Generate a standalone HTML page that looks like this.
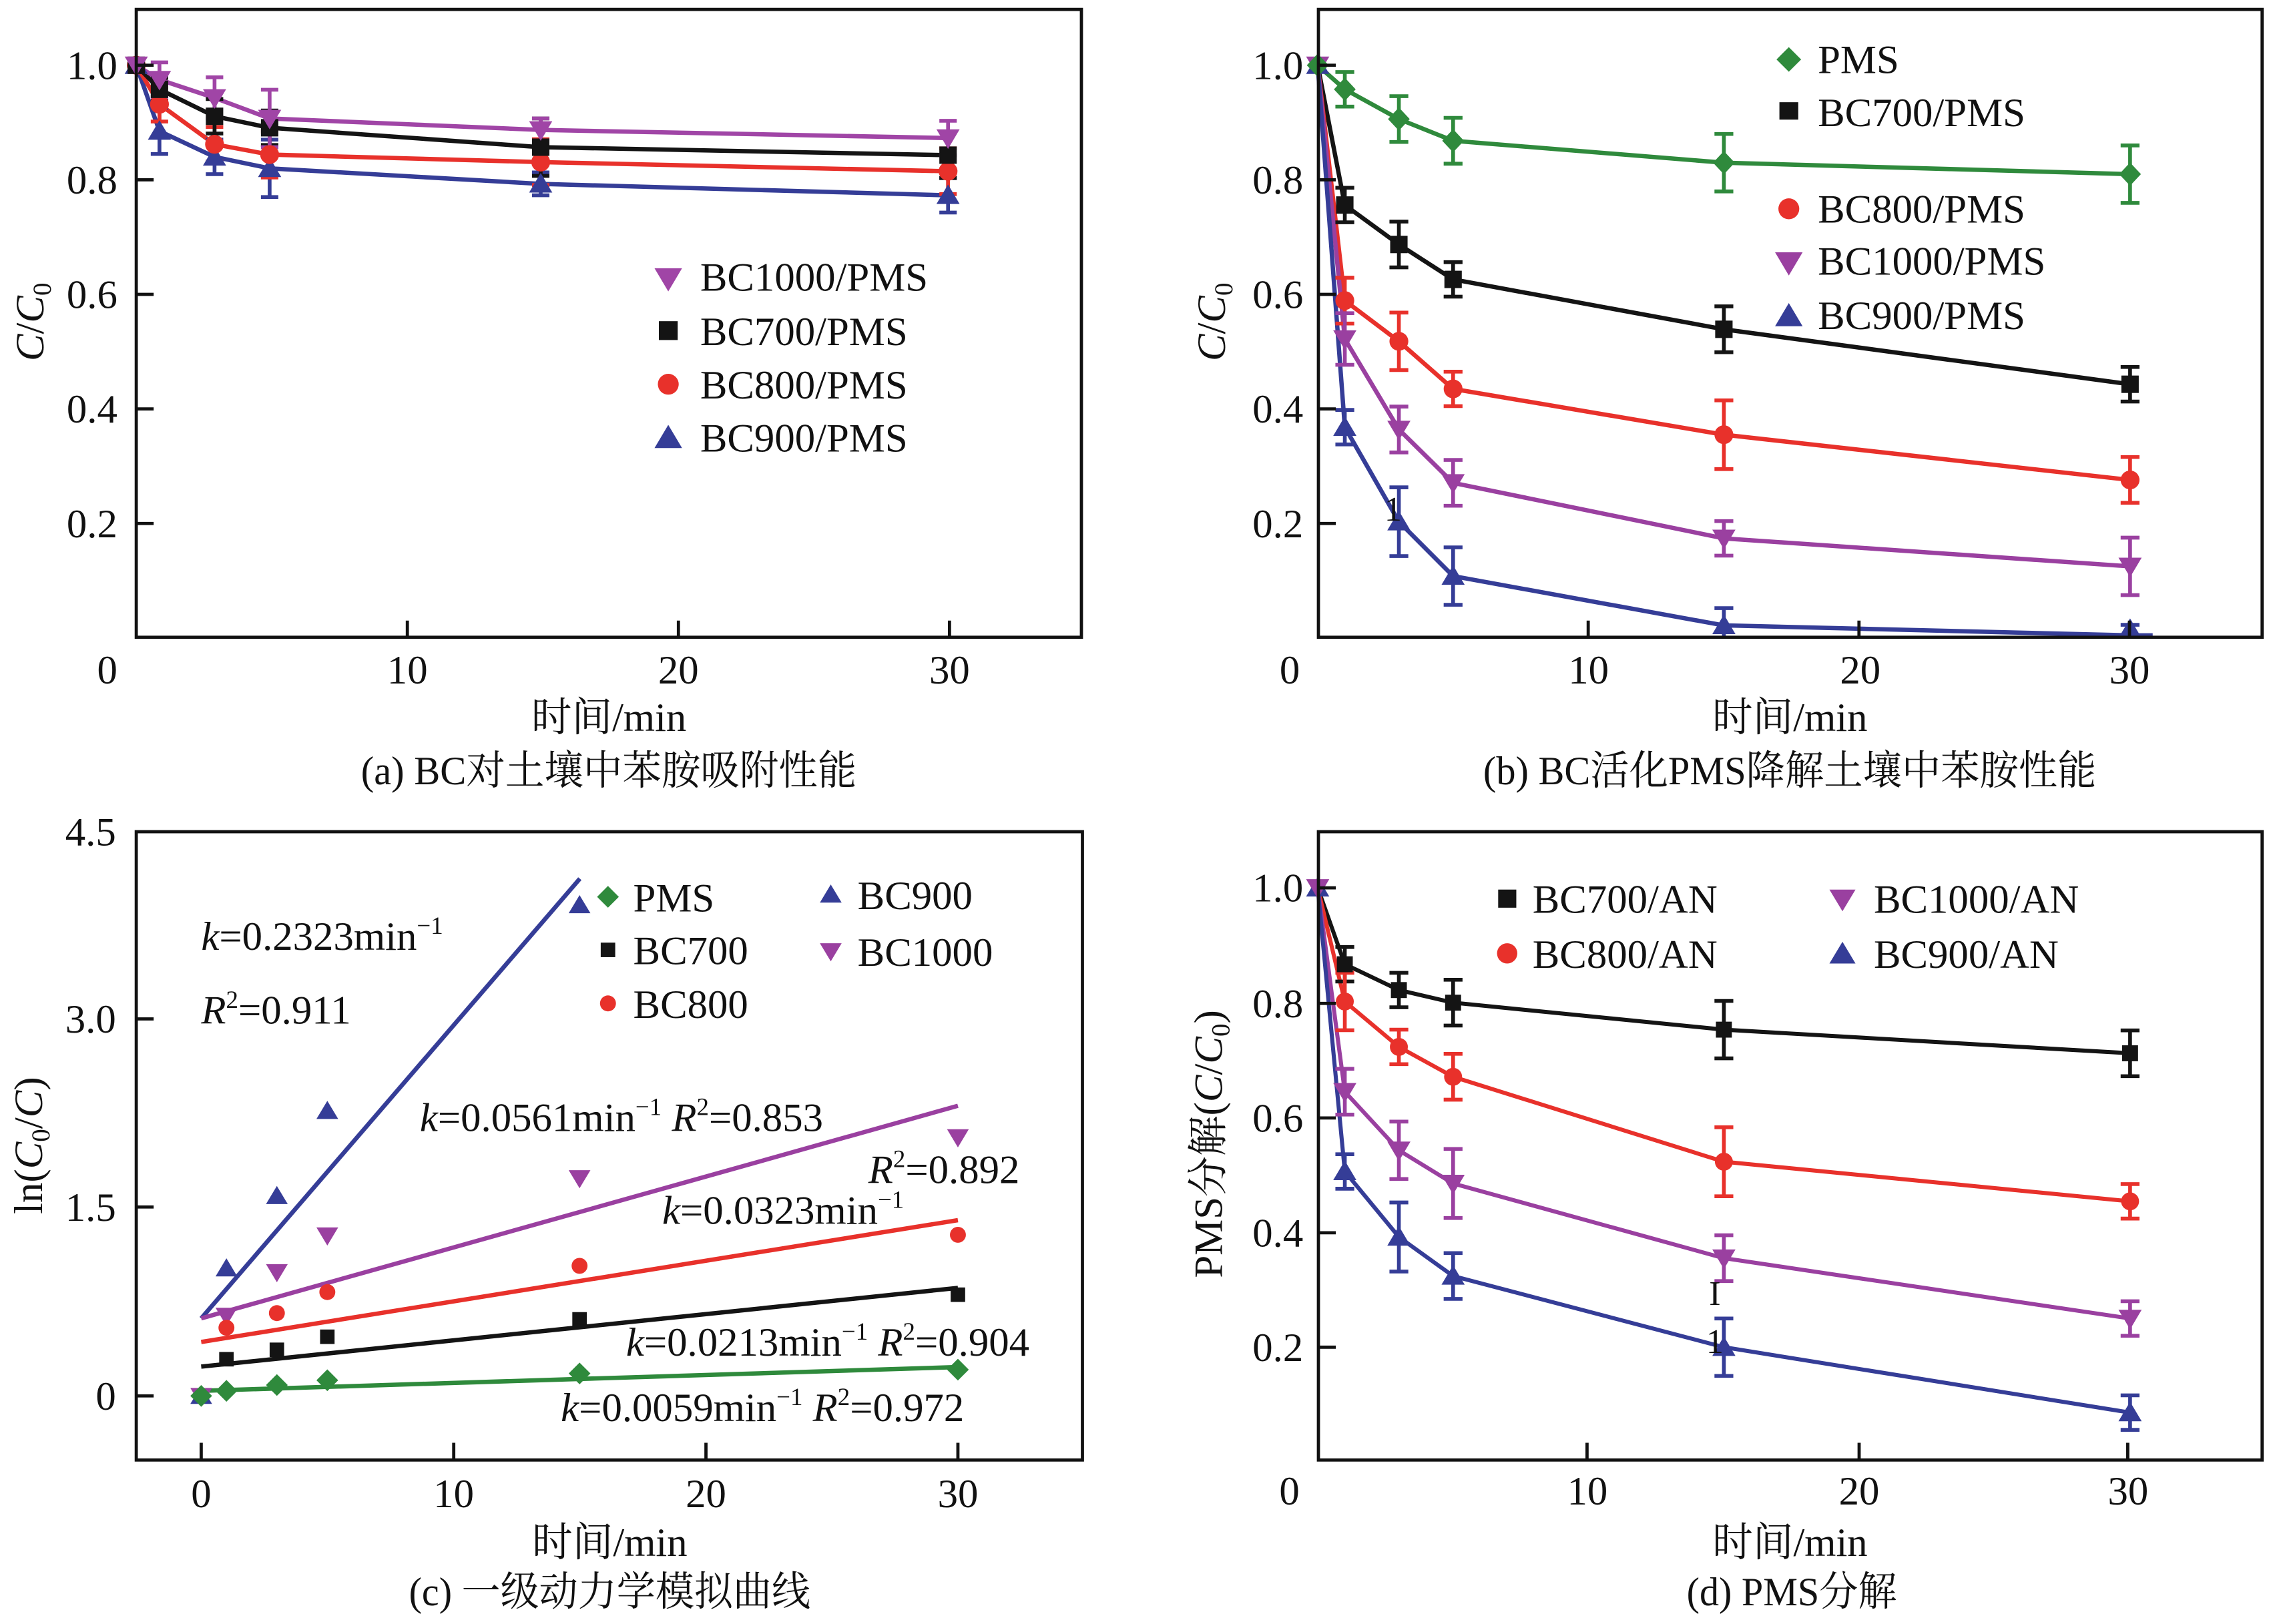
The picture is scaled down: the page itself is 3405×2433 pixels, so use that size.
<!DOCTYPE html>
<html><head><meta charset="utf-8"><style>
html,body{margin:0;padding:0;background:#fff;}
body{width:3405px;height:2433px;overflow:hidden;}
svg{display:block;}
</style></head><body>
<svg xmlns="http://www.w3.org/2000/svg" width="3405" height="2433" viewBox="0 0 1568 1120" preserveAspectRatio="none">
<rect x="0" y="0" width="1568" height="1120" fill="#fff"/>
<g font-family="'Liberation Serif','Noto Serif CJK SC',serif" font-size="28" fill="#111">

<!-- ================= PANEL A ================= -->
<g fill="none" stroke-width="3" stroke-linejoin="round">
<polyline stroke="#353d97" points="94,45 110,90.4 148,108.2 186,116.1 373,126.8 654,134.7"/>
<polyline stroke="#e8312b" points="94,45 110,71.9 148,99.5 186,106.6 373,111.8 654,118.1"/>
<polyline stroke="#141414" points="94,45 110,61.6 148,80.2 186,88.1 373,101.5 654,107"/>
<polyline stroke="#a045a6" points="94,45 110,54.9 148,67.5 186,81.7 373,89.6 654,95.2"/>
</g>
<g fill="none" stroke-width="2.6">
<path stroke="#353d97" d="M110 74.6V106.2M104 74.6H116M104 106.2H116M148 96.3V120.1M142 96.3H154M142 120.1H154M186 96.3V135.9M180 96.3H192M180 135.9H192M373 118.9V134.7M367 118.9H379M367 134.7H379M654 122.8V146.6M648 122.8H660M648 146.6H660"/>
<path stroke="#e8312b" d="M110 60V83.8M104 60H116M104 83.8H116M148 87.6V111.4M142 87.6H154M142 111.4H154M186 90.8V122.4M180 90.8H192M180 122.4H192M373 96V127.6M367 96H379M367 127.6H379M654 102.3V133.9M648 102.3H660M648 133.9H660"/>
<path stroke="#141414" d="M110 53.7V69.5M104 53.7H116M104 69.5H116M148 68.3V92.1M142 68.3H154M142 92.1H154M186 76.2V100M180 76.2H192M180 100H192M373 81.7V121.3M367 81.7H379M367 121.3H379M654 91.2V122.8M648 91.2H660M648 122.8H660"/>
<path stroke="#a045a6" d="M110 43V66.8M104 43H116M104 66.8H116M148 53.3V81.7M142 53.3H154M142 81.7H154M186 61.9V101.5M180 61.9H192M180 101.5H192M373 81.7V97.5M367 81.7H379M367 97.5H379M654 83.3V107.1M648 83.3H660M648 107.1H660"/>
</g>
<g fill="#353d97">
<path transform="translate(94 45)" d="M0-7.5L8 6H-8Z"/><path transform="translate(110 90.4)" d="M0-7.5L8 6H-8Z"/><path transform="translate(148 108.2)" d="M0-7.5L8 6H-8Z"/><path transform="translate(186 116.1)" d="M0-7.5L8 6H-8Z"/><path transform="translate(373 126.8)" d="M0-7.5L8 6H-8Z"/><path transform="translate(654 134.7)" d="M0-7.5L8 6H-8Z"/>
</g>
<g fill="#e8312b">
<circle cx="94" cy="45" r="6.5"/><circle cx="110" cy="71.9" r="6.5"/><circle cx="148" cy="99.5" r="6.5"/><circle cx="186" cy="106.6" r="6.5"/><circle cx="373" cy="111.8" r="6.5"/><circle cx="654" cy="118.1" r="6.5"/>
</g>
<g fill="#141414">
<rect x="88" y="39" width="12" height="12"/><rect x="104" y="55.6" width="12" height="12"/><rect x="142" y="74.2" width="12" height="12"/><rect x="180" y="82.1" width="12" height="12"/><rect x="367" y="95.5" width="12" height="12"/><rect x="648" y="101" width="12" height="12"/>
</g>
<g fill="#a045a6">
<path transform="translate(94 45)" d="M0 7.5L8-6H-8Z"/><path transform="translate(110 54.9)" d="M0 7.5L8-6H-8Z"/><path transform="translate(148 67.5)" d="M0 7.5L8-6H-8Z"/><path transform="translate(186 81.7)" d="M0 7.5L8-6H-8Z"/><path transform="translate(373 89.6)" d="M0 7.5L8-6H-8Z"/><path transform="translate(654 95.2)" d="M0 7.5L8-6H-8Z"/>
</g>
<!-- axes a -->
<rect x="94" y="6.5" width="652" height="433" fill="none" stroke="#111" stroke-width="2.2"/>
<path d="M94 45H106M94 124H106M94 203H106M94 282H106M94 361H106M281 439V428M468 439V428M655 439V428" stroke="#111" stroke-width="2.2" fill="none"/>
<g text-anchor="end">
<text x="81" y="54.5">1.0</text><text x="81" y="133.5">0.8</text><text x="81" y="212.5">0.6</text><text x="81" y="291.5">0.4</text><text x="81" y="370.5">0.2</text>
</g>
<g text-anchor="middle">
<text x="74" y="471.5">0</text><text x="281" y="471.5">10</text><text x="468" y="471.5">20</text><text x="655" y="471.5">30</text>
<text x="420" y="504" textLength="107" lengthAdjust="spacingAndGlyphs">时间/min</text>
<text x="420" y="541" textLength="342" lengthAdjust="spacingAndGlyphs">(a) BC对土壤中苯胺吸附性能</text>
<text transform="translate(30 222) rotate(-90)"><tspan font-style="italic">C</tspan>/<tspan font-style="italic">C</tspan><tspan font-size="18" dy="5">0</tspan></text>
</g>
<!-- legend a -->
<path fill="#a045a6" transform="translate(461 192)" d="M0 9L9.5-7H-9.5Z"/>
<rect x="454.5" y="221.5" width="13" height="13" fill="#141414"/>
<circle cx="461" cy="265" r="7.2" fill="#e8312b"/>
<path fill="#353d97" transform="translate(461 302)" d="M0-9L9.5 7H-9.5Z"/>
<text x="483" y="200.5">BC1000/PMS</text>
<text x="483" y="238">BC700/PMS</text>
<text x="483" y="274.8">BC800/PMS</text>
<text x="483" y="311.5">BC900/PMS</text>

<!-- ================= PANEL B ================= -->
<g fill="none" stroke-width="3" stroke-linejoin="round">
<polyline stroke="#2f8a3c" points="909,45 927.7,61.6 965,82.1 1002.4,97.1 1189.2,112.2 1469.4,120.1"/>
<polyline stroke="#141414" points="909,45 927.7,141.4 965,168.6 1002.4,192.7 1189.2,227.1 1469.4,265"/>
<polyline stroke="#e8312b" points="909,45 927.7,207.3 965,235.4 1002.4,268.2 1189.2,299.8 1469.4,331"/>
<polyline stroke="#9a40a0" points="909,45 927.7,233.8 965,296.2 1002.4,333 1189.2,371.3 1469.4,390.6"/>
<polyline stroke="#353d97" points="909,45 927.7,294.6 965,359.8 1002.4,397.3 1189.2,431.3 1469.4,438.2 1485,438.2"/>
</g>
<g fill="none" stroke-width="2.6">
<path stroke="#2f8a3c" d="M927.7 49.7V73.5M921.2 49.7H934.2M921.2 73.5H934.2M965 66.3V97.9M958.5 66.3H971.5M958.5 97.9H971.5M1002.4 81.3V112.9M995.9 81.3H1008.9M995.9 112.9H1008.9M1189.2 92.4V132M1182.7 92.4H1195.7M1182.7 132H1195.7M1469.4 100.3V139.9M1462.9 100.3H1475.9M1462.9 139.9H1475.9"/>
<path stroke="#141414" d="M927.7 129.5V153.3M921.2 129.5H934.2M921.2 153.3H934.2M965 152.8V184.4M958.5 152.8H971.5M958.5 184.4H971.5M1002.4 180.8V204.6M995.9 180.8H1008.9M995.9 204.6H1008.9M1189.2 211.3V242.9M1182.7 211.3H1195.7M1182.7 242.9H1195.7M1469.4 253.1V276.9M1462.9 253.1H1475.9M1462.9 276.9H1475.9"/>
<path stroke="#e8312b" d="M927.7 191.5V223.1M921.2 191.5H934.2M921.2 223.1H934.2M965 215.6V255.2M958.5 215.6H971.5M958.5 255.2H971.5M1002.4 256.3V280.1M995.9 256.3H1008.9M995.9 280.1H1008.9M1189.2 276.1V323.5M1182.7 276.1H1195.7M1182.7 323.5H1195.7M1469.4 315.2V346.8M1462.9 315.2H1475.9M1462.9 346.8H1475.9"/>
<path stroke="#9a40a0" d="M927.7 216V251.6M921.2 216H934.2M921.2 251.6H934.2M965 280.4V312M958.5 280.4H971.5M958.5 312H971.5M1002.4 317.2V348.8M995.9 317.2H1008.9M995.9 348.8H1008.9M1189.2 359.4V383.2M1182.7 359.4H1195.7M1182.7 383.2H1195.7M1469.4 370.8V410.4M1462.9 370.8H1475.9M1462.9 410.4H1475.9"/>
<path stroke="#353d97" d="M927.7 282.7V306.5M921.2 282.7H934.2M921.2 306.5H934.2M965 336.1V383.5M958.5 336.1H971.5M958.5 383.5H971.5M1002.4 377.5V417.1M995.9 377.5H1008.9M995.9 417.1H1008.9M1189.2 419.4V439M1182.7 419.4H1195.7M1469.4 430.9V439M1462.9 430.9H1475.9"/>
</g>
<g fill="#353d97">
<path transform="translate(909 45)" d="M0-7.5L8 6H-8Z"/><path transform="translate(927.7 294.6)" d="M0-7.5L8 6H-8Z"/><path transform="translate(965 359.8)" d="M0-7.5L8 6H-8Z"/><path transform="translate(1002.4 397.3)" d="M0-7.5L8 6H-8Z"/><path transform="translate(1189.2 431.3)" d="M0-7.5L8 6H-8Z"/><path transform="translate(1469.4 434)" d="M0-7.5L8 6H-8Z"/>
</g>
<g fill="#9a40a0">
<path transform="translate(909 45)" d="M0 7.5L8-6H-8Z"/><path transform="translate(927.7 233.8)" d="M0 7.5L8-6H-8Z"/><path transform="translate(965 296.2)" d="M0 7.5L8-6H-8Z"/><path transform="translate(1002.4 333)" d="M0 7.5L8-6H-8Z"/><path transform="translate(1189.2 371.3)" d="M0 7.5L8-6H-8Z"/><path transform="translate(1469.4 390.6)" d="M0 7.5L8-6H-8Z"/>
</g>
<g fill="#e8312b">
<circle cx="927.7" cy="207.3" r="6.5"/><circle cx="965" cy="235.4" r="6.5"/><circle cx="1002.4" cy="268.2" r="6.5"/><circle cx="1189.2" cy="299.8" r="6.5"/><circle cx="1469.4" cy="331" r="6.5"/>
</g>
<g fill="#141414">
<rect x="921.7" y="135.4" width="12" height="12"/><rect x="959" y="162.6" width="12" height="12"/><rect x="996.4" y="186.7" width="12" height="12"/><rect x="1183.2" y="221.1" width="12" height="12"/><rect x="1463.4" y="259" width="12" height="12"/>
</g>
<g fill="#2f8a3c">
<path transform="translate(909 45)" d="M0-8L7.5 0L0 8L-7.5 0Z"/><path transform="translate(927.7 61.6)" d="M0-8L7.5 0L0 8L-7.5 0Z"/><path transform="translate(965 82.1)" d="M0-8L7.5 0L0 8L-7.5 0Z"/><path transform="translate(1002.4 97.1)" d="M0-8L7.5 0L0 8L-7.5 0Z"/><path transform="translate(1189.2 112.2)" d="M0-8L7.5 0L0 8L-7.5 0Z"/><path transform="translate(1469.4 120.1)" d="M0-8L7.5 0L0 8L-7.5 0Z"/>
</g>
<text x="961" y="359" font-size="24" text-anchor="middle">1</text>
<!-- axes b -->
<rect x="909.5" y="6.5" width="651" height="433" fill="none" stroke="#111" stroke-width="2.2"/>
<path d="M909.5 45H921.5M909.5 124H921.5M909.5 203H921.5M909.5 282H921.5M909.5 361H921.5M1095.6 439V428M1282.4 439V428M1469 439V428" stroke="#111" stroke-width="2.2" fill="none"/>
<g text-anchor="end">
<text x="899" y="54.5">1.0</text><text x="899" y="133.5">0.8</text><text x="899" y="212.5">0.6</text><text x="899" y="291.5">0.4</text><text x="899" y="370.5">0.2</text>
</g>
<g text-anchor="middle">
<text x="889.7" y="471.5">0</text><text x="1095.8" y="471.5">10</text><text x="1283.3" y="471.5">20</text><text x="1469" y="471.5">30</text>
<text x="1234.7" y="504" textLength="107" lengthAdjust="spacingAndGlyphs">时间/min</text>
<text x="1234.7" y="541" textLength="423" lengthAdjust="spacingAndGlyphs">(b) BC活化PMS降解土壤中苯胺性能</text>
<text transform="translate(845 222) rotate(-90)"><tspan font-style="italic">C</tspan>/<tspan font-style="italic">C</tspan><tspan font-size="18" dy="5">0</tspan></text>
</g>
<!-- legend b -->
<path fill="#2f8a3c" transform="translate(1234 41)" d="M0-8.5L8.5 0L0 8.5L-8.5 0Z"/>
<rect x="1227.5" y="70.5" width="13" height="12" fill="#141414"/>
<circle cx="1234" cy="144" r="7.2" fill="#e8312b"/>
<path fill="#9a40a0" transform="translate(1234 181)" d="M0 9L9.5-7H-9.5Z"/>
<path fill="#353d97" transform="translate(1234 218)" d="M0-9L9.5 7H-9.5Z"/>
<text x="1254" y="50.5">PMS</text>
<text x="1254" y="87">BC700/PMS</text>
<text x="1254" y="153.5">BC800/PMS</text>
<text x="1254" y="189.5">BC1000/PMS</text>
<text x="1254" y="227">BC900/PMS</text>

<!-- ================= PANEL C ================= -->
<g fill="none" stroke-width="3">
<line x1="138.8" y1="909.2" x2="400" y2="606" stroke="#353d97"/>
<line x1="138.8" y1="909.2" x2="660.8" y2="762.6" stroke="#9a40a0"/>
<line x1="138.8" y1="925.5" x2="660.8" y2="841.5" stroke="#e8312b"/>
<line x1="138.8" y1="942.5" x2="660.8" y2="888.2" stroke="#141414"/>
<line x1="138.8" y1="959.2" x2="660.8" y2="942.8" stroke="#2f8a3c"/>
</g>
<g fill="#353d97">
<path transform="translate(138.8 962.7)" d="M0-7L7.5 5.5H-7.5Z"/><path transform="translate(156.2 874.8)" d="M0-7L7.5 5.5H-7.5Z"/><path transform="translate(191 824.9)" d="M0-7L7.5 5.5H-7.5Z"/><path transform="translate(225.8 766.2)" d="M0-7L7.5 5.5H-7.5Z"/><path transform="translate(399.8 624.3)" d="M0-7L7.5 5.5H-7.5Z"/>
</g>
<g fill="#9a40a0">
<path transform="translate(138.8 962.7)" d="M0 7L7.5-5.5H-7.5Z"/><path transform="translate(156.2 907.4)" d="M0 7L7.5-5.5H-7.5Z"/><path transform="translate(191 877.3)" d="M0 7L7.5-5.5H-7.5Z"/><path transform="translate(225.8 852)" d="M0 7L7.5-5.5H-7.5Z"/><path transform="translate(399.8 812.5)" d="M0 7L7.5-5.5H-7.5Z"/><path transform="translate(660.8 784.3)" d="M0 7L7.5-5.5H-7.5Z"/>
</g>
<g fill="#e8312b">
<circle cx="156.2" cy="915.7" r="5.5"/><circle cx="191" cy="905.6" r="5.5"/><circle cx="225.8" cy="891.1" r="5.5"/><circle cx="399.8" cy="873" r="5.5"/><circle cx="660.8" cy="851.6" r="5.5"/>
</g>
<g fill="#141414">
<rect x="151.2" y="932.4" width="10" height="10"/><rect x="186" y="925.9" width="10" height="10"/><rect x="220.8" y="916.9" width="10" height="10"/><rect x="394.8" y="904.9" width="10" height="10"/><rect x="655.8" y="887.9" width="10" height="10"/>
</g>
<g fill="#2f8a3c">
<path transform="translate(138.8 962.7)" d="M0-7.5L7.5 0L0 7.5L-7.5 0Z"/><path transform="translate(156.2 959.2)" d="M0-7.5L7.5 0L0 7.5L-7.5 0Z"/><path transform="translate(191 955.2)" d="M0-7.5L7.5 0L0 7.5L-7.5 0Z"/><path transform="translate(225.8 951.9)" d="M0-7.5L7.5 0L0 7.5L-7.5 0Z"/><path transform="translate(399.8 947.2)" d="M0-7.5L7.5 0L0 7.5L-7.5 0Z"/><path transform="translate(660.8 944.6)" d="M0-7.5L7.5 0L0 7.5L-7.5 0Z"/>
</g>
<!-- annotations c -->
<text x="138.8" y="655"><tspan font-style="italic">k</tspan>=0.2323min<tspan dy="-11" font-size="17">−1</tspan></text>
<text x="138.8" y="706"><tspan font-style="italic">R</tspan><tspan dy="-11" font-size="17">2</tspan><tspan dy="11">=0.911</tspan></text>
<text x="289.6" y="780"><tspan font-style="italic">k</tspan>=0.0561min<tspan dy="-11" font-size="17">−1</tspan><tspan dy="11"> </tspan><tspan font-style="italic">R</tspan><tspan dy="-11" font-size="17">2</tspan><tspan dy="11">=0.853</tspan></text>
<text x="599" y="816"><tspan font-style="italic">R</tspan><tspan dy="-11" font-size="17">2</tspan><tspan dy="11">=0.892</tspan></text>
<text x="456.8" y="844"><tspan font-style="italic">k</tspan>=0.0323min<tspan dy="-11" font-size="17">−1</tspan></text>
<text x="431.9" y="935"><tspan font-style="italic">k</tspan>=0.0213min<tspan dy="-11" font-size="17">−1</tspan><tspan dy="11"> </tspan><tspan font-style="italic">R</tspan><tspan dy="-11" font-size="17">2</tspan><tspan dy="11">=0.904</tspan></text>
<text x="386.9" y="980"><tspan font-style="italic">k</tspan>=0.0059min<tspan dy="-11" font-size="17">−1</tspan><tspan dy="11"> </tspan><tspan font-style="italic">R</tspan><tspan dy="-11" font-size="17">2</tspan><tspan dy="11">=0.972</tspan></text>
<!-- axes c -->
<rect x="94" y="573.6" width="652.7" height="433.3" fill="none" stroke="#111" stroke-width="2.2"/>
<path d="M94 702.7H106M94 832.4H106M94 962.7H106M138.8 1007V995M313 1007V995M487 1007V995M660.8 1007V995" stroke="#111" stroke-width="2.2" fill="none"/>
<g text-anchor="end">
<text x="80" y="583">4.5</text><text x="80" y="712.2">3.0</text><text x="80" y="841.9">1.5</text><text x="80" y="972.2">0</text>
</g>
<g text-anchor="middle">
<text x="138.8" y="1039.5">0</text><text x="313" y="1039.5">10</text><text x="487" y="1039.5">20</text><text x="660.8" y="1039.5">30</text>
<text x="420.6" y="1073" textLength="107" lengthAdjust="spacingAndGlyphs">时间/min</text>
<text x="420.6" y="1107" textLength="277" lengthAdjust="spacingAndGlyphs">(c) 一级动力学模拟曲线</text>
<text transform="translate(29 790) rotate(-90)">ln(<tspan font-style="italic">C</tspan><tspan font-size="18" dy="5">0</tspan><tspan dy="-5">/</tspan><tspan font-style="italic">C</tspan>)</text>
</g>
<!-- legend c -->
<path fill="#2f8a3c" transform="translate(419.4 618.5)" d="M0-7.5L7.5 0L0 7.5L-7.5 0Z"/>
<rect x="414.4" y="650.1" width="10" height="10" fill="#141414"/>
<circle cx="419.4" cy="692" r="5.5" fill="#e8312b"/>
<path fill="#353d97" transform="translate(573.1 617)" d="M0-7L7.5 5.5H-7.5Z"/>
<path fill="#9a40a0" transform="translate(573.1 656)" d="M0 7L7.5-5.5H-7.5Z"/>
<text x="436.8" y="628.5">PMS</text>
<text x="436.8" y="665">BC700</text>
<text x="436.8" y="702">BC800</text>
<text x="591.6" y="627">BC900</text>
<text x="591.6" y="666">BC1000</text>

<!-- ================= PANEL D ================= -->
<g fill="none" stroke-width="2.8" stroke-linejoin="round">
<polyline stroke="#141414" points="909,612.3 927.7,665 965,682.8 1002.4,691.5 1189.2,710.1 1469.4,726.4"/>
<polyline stroke="#e8312b" points="909,612.3 927.7,690.7 965,722 1002.4,742.6 1189.2,801.2 1469.4,828.5"/>
<polyline stroke="#9a40a0" points="909,612.3 927.7,752.9 965,793.3 1002.4,816.2 1189.2,867.7 1469.4,909.3"/>
<polyline stroke="#353d97" points="909,612.3 927.7,807.9 965,853.1 1002.4,880 1189.2,929.1 1469.4,974.2"/>
</g>
<g fill="none" stroke-width="2.6">
<path stroke="#141414" d="M927.7 653.1V676.9M921.2 653.1H934.2M921.2 676.9H934.2M965 670.9V694.7M958.5 670.9H971.5M958.5 694.7H971.5M1002.4 675.7V707.3M995.9 675.7H1008.9M995.9 707.3H1008.9M1189.2 690.3V729.9M1182.7 690.3H1195.7M1182.7 729.9H1195.7M1469.4 710.6V742.2M1462.9 710.6H1475.9M1462.9 742.2H1475.9"/>
<path stroke="#e8312b" d="M927.7 670.9V710.5M921.2 670.9H934.2M921.2 710.5H934.2M965 710.1V733.9M958.5 710.1H971.5M958.5 733.9H971.5M1002.4 726.8V758.4M995.9 726.8H1008.9M995.9 758.4H1008.9M1189.2 777.4V825M1182.7 777.4H1195.7M1182.7 825H1195.7M1469.4 816.6V840.4M1462.9 816.6H1475.9M1462.9 840.4H1475.9"/>
<path stroke="#9a40a0" d="M927.7 737.1V768.7M921.2 737.1H934.2M921.2 768.7H934.2M965 773.5V813.1M958.5 773.5H971.5M958.5 813.1H971.5M1002.4 792.4V840M995.9 792.4H1008.9M995.9 840H1008.9M1189.2 851.9V883.5M1182.7 851.9H1195.7M1182.7 883.5H1195.7M1469.4 897.4V921.2M1462.9 897.4H1475.9M1462.9 921.2H1475.9"/>
<path stroke="#353d97" d="M927.7 796V819.8M921.2 796H934.2M921.2 819.8H934.2M965 829.3V876.9M958.5 829.3H971.5M958.5 876.9H971.5M1002.4 864.2V895.8M995.9 864.2H1008.9M995.9 895.8H1008.9M1189.2 909.3V948.9M1182.7 909.3H1195.7M1182.7 948.9H1195.7M1469.4 962.3V986.1M1462.9 962.3H1475.9M1462.9 986.1H1475.9"/>
</g>
<g fill="#353d97">
<path transform="translate(909 612.3)" d="M0-7.5L8 6H-8Z"/><path transform="translate(927.7 807.9)" d="M0-7.5L8 6H-8Z"/><path transform="translate(965 853.1)" d="M0-7.5L8 6H-8Z"/><path transform="translate(1002.4 880)" d="M0-7.5L8 6H-8Z"/><path transform="translate(1189.2 929.1)" d="M0-7.5L8 6H-8Z"/><path transform="translate(1469.4 974.2)" d="M0-7.5L8 6H-8Z"/>
</g>
<g fill="#9a40a0">
<path transform="translate(909 612.3)" d="M0 7.5L8-6H-8Z"/><path transform="translate(927.7 752.9)" d="M0 7.5L8-6H-8Z"/><path transform="translate(965 793.3)" d="M0 7.5L8-6H-8Z"/><path transform="translate(1002.4 816.2)" d="M0 7.5L8-6H-8Z"/><path transform="translate(1189.2 867.7)" d="M0 7.5L8-6H-8Z"/><path transform="translate(1469.4 909.3)" d="M0 7.5L8-6H-8Z"/>
</g>
<g fill="#e8312b">
<circle cx="927.7" cy="690.7" r="6.2"/><circle cx="965" cy="722" r="6.2"/><circle cx="1002.4" cy="742.6" r="6.2"/><circle cx="1189.2" cy="801.2" r="6.2"/><circle cx="1469.4" cy="828.5" r="6.2"/>
</g>
<g fill="#141414">
<rect x="922.2" y="659.5" width="11" height="11"/><rect x="959.5" y="677.3" width="11" height="11"/><rect x="996.9" y="686" width="11" height="11"/><rect x="1183.7" y="704.6" width="11" height="11"/><rect x="1463.9" y="720.9" width="11" height="11"/>
</g>
<text x="1183" y="900" font-size="24" text-anchor="middle">I</text>
<text x="1183" y="933" font-size="24" text-anchor="middle">1</text>
<!-- axes d -->
<rect x="909.5" y="573.6" width="651" height="433.3" fill="none" stroke="#111" stroke-width="2.2"/>
<path d="M909.5 612.3H921.5M909.5 692H921.5M909.5 771H921.5M909.5 850.2H921.5M909.5 929.1H921.5M1094.8 1007V995M1282.5 1007V995M1467.8 1007V995" stroke="#111" stroke-width="2.2" fill="none"/>
<g text-anchor="end">
<text x="899" y="621.8">1.0</text><text x="899" y="701.5">0.8</text><text x="899" y="780.5">0.6</text><text x="899" y="859.7">0.4</text><text x="899" y="938.6">0.2</text>
</g>
<g text-anchor="middle">
<text x="889.5" y="1037.7">0</text><text x="1095" y="1037.7">10</text><text x="1282.5" y="1037.7">20</text><text x="1468" y="1037.7">30</text>
<text x="1234.8" y="1073" textLength="107" lengthAdjust="spacingAndGlyphs">时间/min</text>
<text x="1236" y="1107" textLength="145" lengthAdjust="spacingAndGlyphs">(d) PMS分解</text>
<text transform="translate(843 789) rotate(-90)">PMS分解(<tspan font-style="italic">C</tspan>/<tspan font-style="italic">C</tspan><tspan font-size="18" dy="5">0</tspan><tspan dy="-5">)</tspan></text>
</g>
<!-- legend d -->
<rect x="1033.5" y="613.5" width="12.5" height="12.5" fill="#141414"/>
<circle cx="1039.7" cy="657.5" r="7" fill="#e8312b"/>
<path fill="#9a40a0" transform="translate(1271 620)" d="M0 8.5L9-6.5H-9Z"/>
<path fill="#353d97" transform="translate(1271 658)" d="M0-8.5L9 6.5H-9Z"/>
<text x="1057.2" y="629.5">BC700/AN</text>
<text x="1057.2" y="667.5">BC800/AN</text>
<text x="1292.6" y="629.5">BC1000/AN</text>
<text x="1292.6" y="667.5">BC900/AN</text>

</g>
</svg>
</body></html>
